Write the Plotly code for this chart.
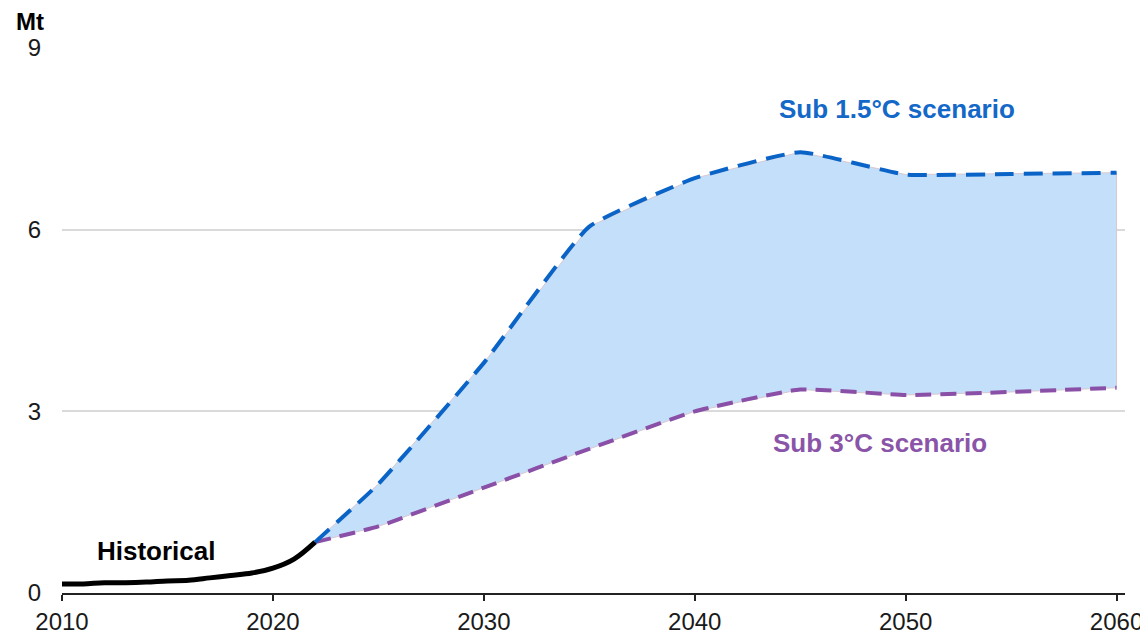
import plotly.graph_objects as go

# Data (Mt)
hist_years = [2010, 2011, 2012, 2013, 2014, 2015, 2016, 2017, 2018, 2019, 2020, 2021, 2022]
hist_vals = [0.15, 0.15, 0.17, 0.17, 0.18, 0.20, 0.21, 0.25, 0.29, 0.33, 0.41, 0.56, 0.84]

scen_years = [2022, 2025, 2030, 2035, 2040, 2045, 2050, 2055, 2060]
sub15_vals = [0.84, 1.80, 3.80, 6.05, 6.85, 7.28, 6.91, 6.92, 6.94]
sub3_vals = [0.84, 1.10, 1.74, 2.38, 3.00, 3.36, 3.27, 3.32, 3.39]

x_ticks = [2010, 2020, 2030, 2040, 2050, 2060]
y_ticks = [0, 3, 6, 9]

FONT = "Liberation Sans, Arial, sans-serif"
BLUE = "#0a64c8"
PURPLE = "#8a4fa6"
FILL = "#c4dff9"

fig = go.Figure()

# shaded range polygon
fig.add_trace(go.Scatter(
    x=scen_years + scen_years[::-1],
    y=sub15_vals + sub3_vals[::-1],
    fill="toself", fillcolor=FILL,
    line=dict(color="#d8c8d0", width=1),
    mode="lines", hoverinfo="skip", showlegend=False))

fig.add_trace(go.Scatter(
    x=scen_years, y=sub3_vals, mode="lines",
    line=dict(color=PURPLE, width=4, dash="16px,9px", shape="spline", smoothing=0.4),
    showlegend=False))

fig.add_trace(go.Scatter(
    x=scen_years, y=sub15_vals, mode="lines",
    line=dict(color=BLUE, width=4, dash="19px,10px", shape="spline", smoothing=0.4),
    showlegend=False))

fig.add_trace(go.Scatter(
    x=hist_years, y=hist_vals, mode="lines",
    line=dict(color="black", width=5, shape="spline"),
    showlegend=False))

fig.add_annotation(x=2049.6, y=8.0, text="<b>Sub 1.5°C scenario</b>", showarrow=False,
                   font=dict(family=FONT, size=26, color="#1468c8"))
fig.add_annotation(x=2048.8, y=2.48, text="<b>Sub 3°C scenario</b>", showarrow=False,
                   font=dict(family=FONT, size=26, color="#8a55a8"))
fig.add_annotation(x=2014.5, y=0.69, text="<b>Historical</b>", showarrow=False,
                   font=dict(family=FONT, size=26, color="black"))
fig.add_annotation(x=0, xref="paper", xanchor="right", xshift=-16,
                   y=1, yref="paper", yanchor="bottom", yshift=11,
                   text="<b>Mt</b>", showarrow=False,
                   font=dict(family=FONT, size=24, color="black"))

# page body has an 8px default margin, so the figure is sized/offset to compensate
fig.update_layout(
    width=1140, height=630,
    margin=dict(l=54, r=23, t=40, b=45),
    paper_bgcolor="white", plot_bgcolor="white",
    font=dict(family=FONT, size=24, color="#1a1a1a"),
    xaxis=dict(range=[2010, 2060.4], tickvals=x_ticks, showgrid=False,
               showline=True, linecolor="#222", linewidth=2,
               ticks="outside", ticklen=6, tickwidth=2, tickcolor="#222",
               ticklabelstandoff=0, zeroline=False, fixedrange=True,
               automargin=False, tickfont=dict(size=24)),
    yaxis=dict(range=[0, 9], tickvals=y_ticks, showgrid=True,
               gridcolor="#dadada", gridwidth=2, zeroline=False,
               showline=False, ticks="", ticklabelstandoff=20, fixedrange=True,
               automargin=False, tickfont=dict(size=24)),
)

fig.write_html("out.html")
